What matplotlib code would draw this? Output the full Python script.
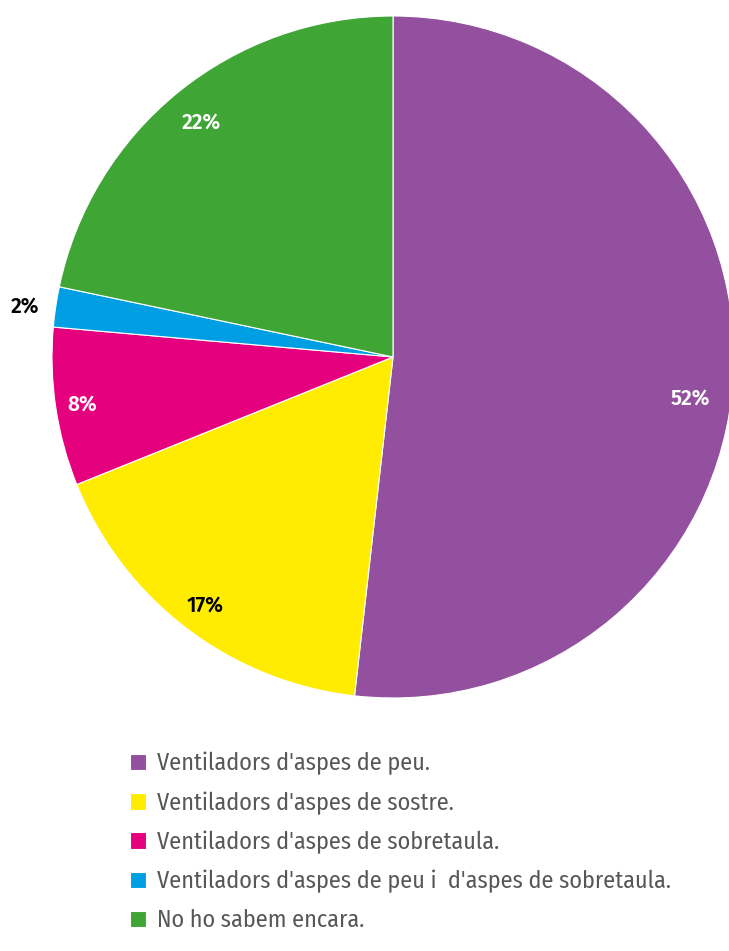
import numpy as np
import matplotlib.pyplot as plt

# data
categories = ["Ventiladors d'aspes de peu.",
              "Ventiladors d'aspes de sostre.",
              "Ventiladors d'aspes de sobretaula.",
              "Ventiladors d'aspes de peu i  d'aspes de sobretaula.",
              "No ho sabem encara."]
values = [51.8, 17.1, 7.5, 1.9, 21.7]
pct_labels = ["52%", "17%", "8%", "2%", "22%"]
colors = ["#93509E", "#FFEC00", "#E5007D", "#009FE3", "#3FA535"]
label_colors = ["white", "black", "white", "black", "white"]
label_dist = [0.88, 0.91, 0.92, 1.09, 0.89]
label_turn = [-4.5, 0, 0, 0.5, 0]   # degrees, nudges label off the slice middle

fam = ["Fira Sans Condensed", "DejaVu Sans"]
fam_bold = ["Fira Sans", "DejaVu Sans"]

fig = plt.figure(figsize=(7.29, 9.51), dpi=100)
# pie centre ~ (393, 357) px, radius ~ 341 px
r = 341
ax = fig.add_axes([(393 - r) / 729, (951 - 357 - r) / 951, 2 * r / 729, 2 * r / 951])
wedges, _ = ax.pie(values, colors=colors, startangle=90, counterclock=False,
                   radius=1, wedgeprops=dict(edgecolor="white", linewidth=0.8))
ax.set_xlim(-1, 1)
ax.set_ylim(-1, 1)
ax.set_aspect("equal")
ax.axis("off")

for w, lab, c, d, t in zip(wedges, pct_labels, label_colors, label_dist, label_turn):
    ang = np.deg2rad((w.theta1 + w.theta2) / 2 + t)
    ax.text(d * np.cos(ang), d * np.sin(ang), lab, ha="center", va="center_baseline",
            color=c, fontsize=15, fontweight="semibold", family=fam_bold)

leg = fig.legend(wedges, categories, loc="upper left",
                 bbox_to_anchor=(118 / 729, 1 - 740 / 951), frameon=False,
                 prop=dict(family=fam, size=17.4, weight="normal"), handlelength=0.67,
                 handleheight=0.67, handletextpad=0.45, labelspacing=0.66, borderpad=0)
for t in leg.get_texts():
    t.set_color("#575756")

fig.savefig("out.png", dpi=100)
